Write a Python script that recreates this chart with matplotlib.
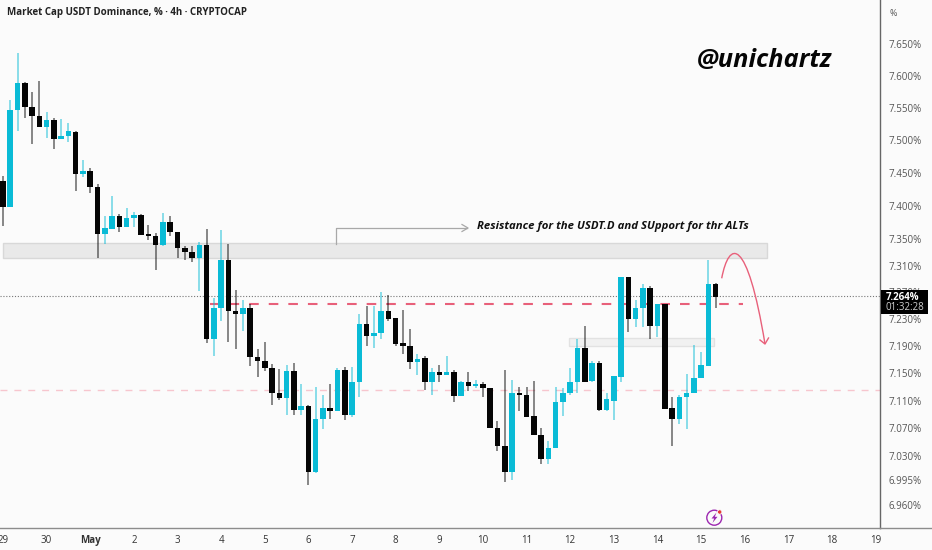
import numpy as np
import matplotlib
matplotlib.use("Agg")
import matplotlib.pyplot as plt
from matplotlib.lines import Line2D
from matplotlib.patches import Circle, PathPatch, Polygon, Rectangle
from matplotlib.path import Path
from matplotlib.ticker import FixedLocator, FixedFormatter, NullLocator

# 4h candles
open_ = [7.438, 7.398, 7.547, 7.588, 7.552, 7.538, 7.520, 7.531, 7.502, 7.507,
         7.513, 7.449, 7.453, 7.429, 7.358, 7.365, 7.385, 7.368, 7.381, 7.386,
         7.357, 7.355, 7.341, 7.376, 7.361, 7.337, 7.331, 7.321, 7.341, 7.200,
         7.246, 7.318, 7.242, 7.238, 7.246, 7.174, 7.168, 7.158, 7.122, 7.114,
         7.154, 7.097, 7.102, 7.007, 7.083, 7.100, 7.095, 7.155, 7.090, 7.137,
         7.223, 7.205, 7.209, 7.242, 7.232, 7.195, 7.191, 7.167, 7.172, 7.138,
         7.152, 7.148, 7.152, 7.117, 7.137, 7.132, 7.134, 7.129, 7.070, 7.045,
         7.007, 7.121, 7.119, 7.088, 7.061, 7.026, 7.042, 7.108, 7.121, 7.137,
         7.188, 7.139, 7.165, 7.096, 7.110, 7.145, 7.293, 7.231, 7.247, 7.276,
         7.220, 7.252, 7.099, 7.083, 7.115, 7.121, 7.144, 7.161, 7.283]
high = [7.445, 7.563, 7.636, 7.590, 7.574, 7.592, 7.544, 7.535, 7.533, 7.527,
        7.515, 7.470, 7.458, 7.433, 7.384, 7.415, 7.388, 7.396, 7.390, 7.388,
        7.371, 7.359, 7.389, 7.384, 7.361, 7.340, 7.339, 7.346, 7.365, 7.262,
        7.364, 7.343, 7.273, 7.259, 7.252, 7.186, 7.196, 7.164, 7.157, 7.162,
        7.165, 7.135, 7.104, 7.130, 7.119, 7.135, 7.158, 7.160, 7.159, 7.238,
        7.249, 7.249, 7.271, 7.266, 7.232, 7.244, 7.216, 7.179, 7.175, 7.158,
        7.163, 7.176, 7.155, 7.139, 7.152, 7.141, 7.138, 7.129, 7.080, 7.155,
        7.141, 7.130, 7.130, 7.139, 7.071, 7.051, 7.130, 7.129, 7.158, 7.200,
        7.220, 7.169, 7.169, 7.122, 7.146, 7.293, 7.293, 7.259, 7.282, 7.280,
        7.252, 7.253, 7.115, 7.119, 7.149, 7.192, 7.181, 7.319, 7.284]
low = [7.370, 7.398, 7.515, 7.535, 7.495, 7.520, 7.504, 7.486, 7.502, 7.497,
       7.422, 7.444, 7.419, 7.322, 7.343, 7.365, 7.361, 7.368, 7.368, 7.356,
       7.349, 7.303, 7.339, 7.354, 7.321, 7.318, 7.315, 7.272, 7.195, 7.175,
       7.227, 7.197, 7.186, 7.212, 7.161, 7.145, 7.154, 7.104, 7.111, 7.089,
       7.090, 7.089, 6.989, 7.006, 7.069, 7.084, 7.095, 7.082, 7.087, 7.116,
       7.191, 7.188, 7.201, 7.227, 7.191, 7.179, 7.157, 7.148, 7.126, 7.119,
       7.138, 7.148, 7.108, 7.117, 7.124, 7.129, 7.116, 7.070, 7.037, 6.992,
       6.996, 7.095, 7.087, 7.061, 7.019, 7.018, 7.042, 7.088, 7.118, 7.122,
       7.138, 7.138, 7.095, 7.095, 7.082, 7.138, 7.211, 7.219, 7.219, 7.200,
       7.204, 7.098, 7.045, 7.077, 7.069, 7.121, 7.144, 7.161, 7.247]
close = [7.398, 7.547, 7.588, 7.552, 7.537, 7.520, 7.531, 7.502, 7.507, 7.514,
         7.448, 7.453, 7.429, 7.357, 7.366, 7.385, 7.368, 7.382, 7.386, 7.356,
         7.355, 7.341, 7.376, 7.361, 7.336, 7.330, 7.321, 7.341, 7.200, 7.246,
         7.318, 7.242, 7.238, 7.246, 7.174, 7.168, 7.158, 7.122, 7.114, 7.154,
         7.097, 7.102, 7.007, 7.084, 7.100, 7.095, 7.155, 7.090, 7.138, 7.223,
         7.205, 7.210, 7.242, 7.231, 7.193, 7.190, 7.167, 7.171, 7.138, 7.152,
         7.148, 7.152, 7.117, 7.137, 7.132, 7.135, 7.128, 7.070, 7.044, 7.007,
         7.121, 7.118, 7.087, 7.061, 7.026, 7.042, 7.109, 7.122, 7.138, 7.188,
         7.138, 7.165, 7.096, 7.112, 7.146, 7.293, 7.231, 7.247, 7.276, 7.220,
         7.252, 7.098, 7.083, 7.115, 7.121, 7.144, 7.162, 7.283, 7.263]

day_labels = ["29", "30", "May", "2", "3", "4", "5", "6", "7", "8", "9", "10",
              "11", "12", "13", "14", "15", "16", "17", "18", "19"]
price_ticks = [7.65, 7.60, 7.55, 7.50, 7.45, 7.40, 7.35, 7.31, 7.27, 7.23,
               7.19, 7.15, 7.11, 7.07, 7.03, 6.995, 6.96]
price_labels = ["7.650%", "7.600%", "7.550%", "7.500%", "7.450%", "7.400%",
                "7.350%", "7.310%", "7.270%", "7.230%", "7.190%", "7.150%",
                "7.110%", "7.070%", "7.030%", "6.995%", "6.960%"]
last_price = 7.264
resistance_zone = (7.322, 7.344)
support_zone = (7.191, 7.202)
mid_level = 7.252
low_level = 7.126

TEAL = "#0abbd6"
BLACK = "#050505"
BG = "#fbfbfb"
FONT = ["Open Sans", "DejaVu Sans"]
plt.rcParams["font.family"] = FONT

W, H = 932, 550
fig = plt.figure(figsize=(W / 100, H / 100), dpi=100, facecolor=BG)
ax = fig.add_axes([0, 22 / H, 880 / W, 528 / H], facecolor=BG)


def px(x, y):
    # picture pixels to figure fraction
    return x / W, 1 - y / H


open_ = np.array(open_)
close = np.array(close)
idx = np.arange(len(open_))
up = close >= open_
colors = [TEAL if u else BLACK for u in up]

ax.set_yscale("log")
ax.set_xlim(-0.41, 120.6)
ax.set_ylim(6.927, 7.719)

# zones and levels
ax.add_patch(Rectangle((0, resistance_zone[0]), 105, resistance_zone[1] - resistance_zone[0],
                       fc="#e9e9e9", ec="#d8d8d8", lw=1, zorder=1))
ax.add_patch(Rectangle((77.9, support_zone[0]), 19.9, support_zone[1] - support_zone[0],
                       fc="#f1f1f1", ec="#e2e2e2", lw=1, zorder=1))
ax.plot([28.4, 101.8], [mid_level, mid_level], color="#e8607a", lw=1.5,
        dashes=(4.6, 4.8), zorder=1.5)
ax.plot([-0.41, 120.6], [low_level, low_level], color="#f7c6ce", lw=1,
        dashes=(5, 5), zorder=1.5)
ax.axhline(last_price, color="#777777", lw=0.8, ls=(0, (1, 1.6)), zorder=1.5)

# candles
ax.vlines(idx, low, high, colors=colors, lw=1.1, alpha=0.6, zorder=2)
ax.bar(idx, np.abs(close - open_), bottom=np.minimum(open_, close), width=0.76,
       color=colors, lw=0, zorder=3)

# axes
for side in ["top", "left"]:
    ax.spines[side].set_visible(False)
ax.spines["right"].set_color("#666666")
ax.spines["bottom"].set_color("#8c8c8c")
ax.spines["right"].set_linewidth(1)
ax.spines["bottom"].set_linewidth(1)
ax.yaxis.tick_right()
ax.yaxis.set_major_locator(FixedLocator(price_ticks))
ax.yaxis.set_major_formatter(FixedFormatter(price_labels))
ax.yaxis.set_minor_locator(NullLocator())
ax.tick_params(axis="y", length=0, pad=6, labelsize=7, labelcolor="#555555")
ax.set_xticks(np.arange(len(day_labels)) * 6)
ax.set_xticklabels(day_labels)
ax.tick_params(axis="x", length=0, pad=5, labelsize=7, labelcolor="#333333")
ax.get_xticklabels()[2].set_fontweight("bold")

# right side extensions of the frame
fig.add_artist(Line2D([880 / W, 1], [22 / H, 22 / H], color="#8c8c8c", lw=1))
fig.text(*px(893, 13), "%", fontsize=6.5, color="#555555", ha="center", va="center")

# last price tag
fig.add_artist(Rectangle(px(880.5, 314), 47.5 / W, 24 / H, transform=fig.transFigure,
                         fc="#000000", ec="none", zorder=5))
fig.text(*px(886, 297), "7.264%", fontsize=7, color="white", fontweight="bold",
         va="center", zorder=6)
fig.text(*px(886, 308), "01:32:28", fontsize=7, color="#cfcfcf", va="center", zorder=6)

# texts
fig.text(*px(7, 13), "Market Cap USDT Dominance, % \u00b7 4h \u00b7 CRYPTOCAP", fontsize=7,
         fontweight="bold", color="#222222", va="center")
fig.text(*px(697, 67), "@unichartz", fontsize=18.3, fontweight="bold", style="italic",
         color="#050505", va="baseline")
fig.text(*px(477, 226), "Resistance for the USDT.D and SUpport for thr ALTs", fontsize=8.2,
         fontweight="bold", style="italic", color="#111111", va="center")

# callout arrow above the zone
fig.add_artist(Line2D([px(336, 0)[0], px(336, 0)[0], px(467, 0)[0]],
                      [px(0, 244)[1], px(0, 228)[1], px(0, 228)[1]], color="#a8a8a8", lw=0.9))
fig.add_artist(Line2D([px(462, 0)[0], px(468, 0)[0], px(462, 0)[0]],
                      [px(0, 224.5)[1], px(0, 228)[1], px(0, 231.5)[1]], color="#a8a8a8", lw=0.9))

# projected move
curve = Path([px(721.7, 278.3), px(729, 240), px(747, 235), px(765, 344)],
             [Path.MOVETO, Path.CURVE4, Path.CURVE4, Path.CURVE4])
fig.add_artist(PathPatch(curve, transform=fig.transFigure, fc="none", ec="#e8607a", lw=1))
fig.add_artist(Line2D([px(760, 0)[0], px(765, 0)[0], px(768.5, 0)[0]],
                      [px(0, 340)[1], px(0, 344)[1], px(0, 338)[1]], color="#e8607a", lw=1))

# lightning badge
badge = fig.add_axes([0, 0, 1, 1], facecolor="none", zorder=4)
badge.set_xlim(0, W)
badge.set_ylim(H, 0)
badge.axis("off")
badge.add_patch(Circle((714.3, 517.7), 7.5, fc="none", ec="#9c27b0", lw=1))
badge.add_patch(Polygon([(716.5, 512.5), (711.5, 518.5), (714.2, 518.5), (712.5, 523),
                         (717.5, 516.8), (714.8, 516.8)], fc="#9c27b0", ec="none"))
badge.add_patch(Circle((719.7, 512), 2.2, fc="#e53935", ec=BG, lw=0.6))

fig.savefig("out.png", dpi=100, facecolor=BG)
